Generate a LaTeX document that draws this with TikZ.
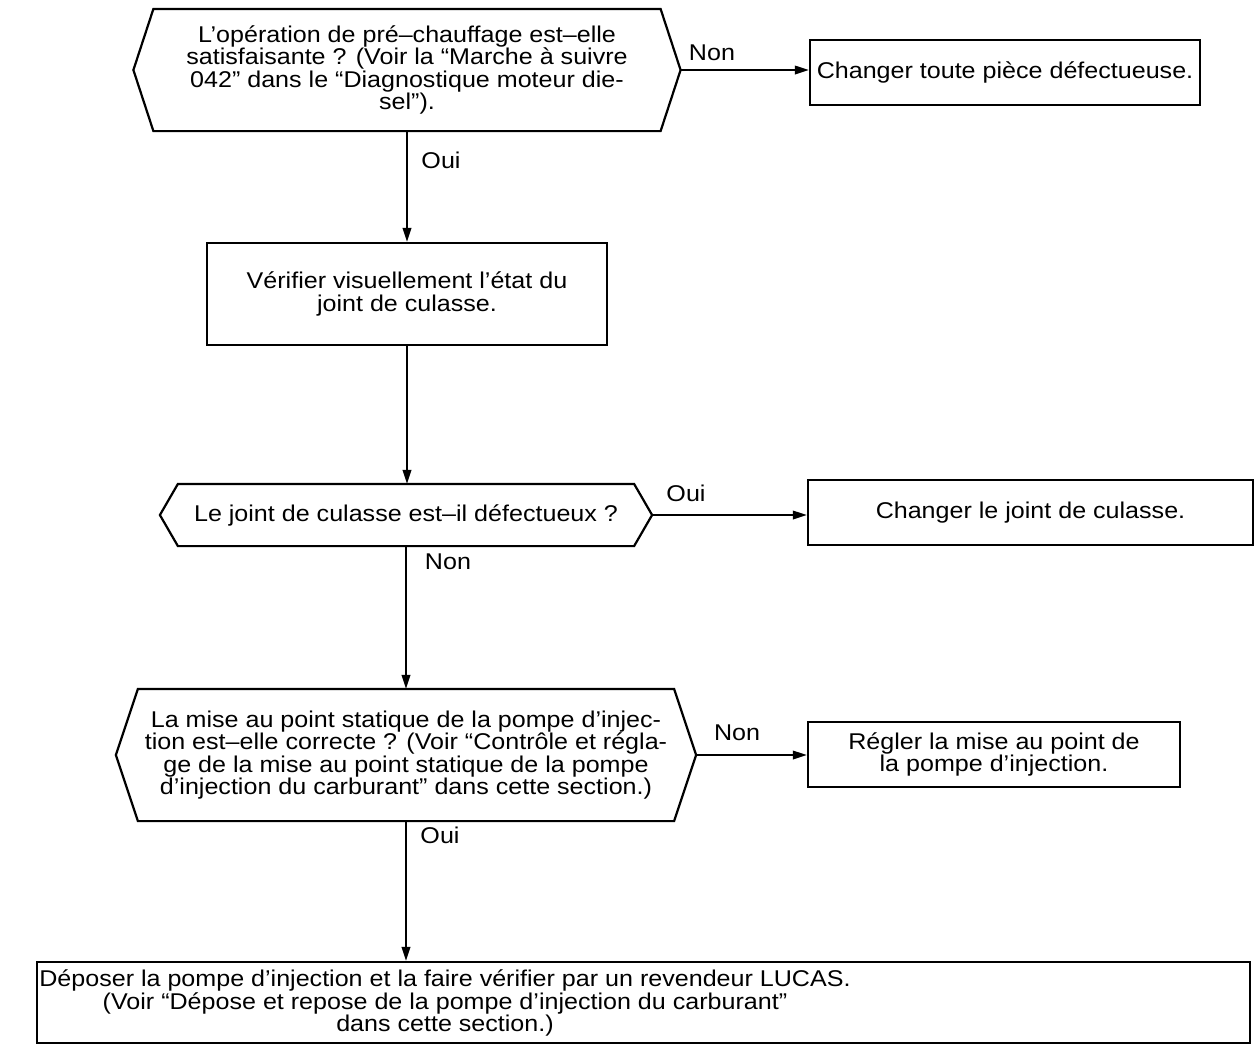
\documentclass[tikz,border=0pt]{standalone}
\usepackage{fontspec}
\setmainfont[FakeStretch=1.1]{Liberation Sans}
\usetikzlibrary{arrows.meta,calc}
\begin{document}
\begin{tikzpicture}[x=0.5pt,y=-0.5pt,line width=1.1pt,
  txt/.style={font=\fontsize{11.4}{11.25}\selectfont,align=center,inner sep=0pt},
  hexbody/.style={txt,draw=none},
  boxnode/.style={txt,draw,line width=1.1pt},
  lbl/.style={font=\fontsize{11.4}{11.25}\selectfont,inner sep=0pt},
  arr/.style={-{Triangle[length=7pt,width=4.2pt]},line width=1.1pt}]
\useasboundingbox (0,0) rectangle (1255,1046);

% --- decision 1
\node[hexbody,minimum width=252.5pt,minimum height=60pt] (h1) at (407,70)
  {L’opération de pré–chauffage est–elle\\satisfaisante ? (Voir la “Marche à suivre\\042” dans le “Diagnostique moteur die-\\sel”).};
\coordinate (h1r) at ($(h1.east)+(20,0)$);
\coordinate (h1l) at ($(h1.west)+(-20,0)$);
\draw (h1.north west) -- (h1.north east) -- (h1r) -- (h1.south east) -- (h1.south west) -- (h1l) -- cycle;

\node[boxnode,minimum width=195pt,minimum height=32.5pt] (b1) at (1005,72.5)
  {Changer toute pièce défectueuse.};

% --- step
\node[boxnode,minimum width=200pt,minimum height=51pt] (b2) at (407,294)
  {Vérifier visuellement l’état du\\joint de culasse.};

% --- decision 2
\node[hexbody,minimum width=227pt,minimum height=30pt] (h2) at (406,515)
  {Le joint de culasse est–il défectueux ?};
\coordinate (h2r) at ($(h2.east)+(18,0)$);
\coordinate (h2l) at ($(h2.west)+(-18,0)$);
\draw (h2.north west) -- (h2.north east) -- (h2r) -- (h2.south east) -- (h2.south west) -- (h2l) -- cycle;

\node[boxnode,minimum width=222.5pt,minimum height=32.5pt] (b3) at (1030.5,512.5)
  {Changer le joint de culasse.};

% --- decision 3
\node[hexbody,minimum width=267pt,minimum height=65pt] (h3) at (406,755)
  {La mise au point statique de la pompe d’injec-\\tion est–elle correcte ? (Voir “Contrôle et régla-\\ge de la mise au point statique de la pompe\\d’injection du carburant” dans cette section.)};
\coordinate (h3r) at ($(h3.east)+(22,0)$);
\coordinate (h3l) at ($(h3.west)+(-22,0)$);
\draw (h3.north west) -- (h3.north east) -- (h3r) -- (h3.south east) -- (h3.south west) -- (h3l) -- cycle;

\node[boxnode,minimum width=186pt,minimum height=32.5pt] (b4) at (994,754.5)
  {Régler la mise au point de\\la pompe d’injection.};

% --- final
\node[boxnode,minimum width=606.5pt,minimum height=40.5pt] (b5) at (643.5,1002.5) {};
\node[txt] (t5) at (445,1003)
  {Déposer la pompe d’injection et la faire vérifier par un revendeur LUCAS.\\(Voir “Dépose et repose de la pompe d’injection du carburant”\\dans cette section.)};

% --- connectors
\draw[arr] (h1r) -- (h1r -| b1.west);
\draw[arr] (h1.south) -- (h1.south |- b2.north);
\draw[arr] (b2.south) -- (b2.south |- h2.north);
\draw[arr] (h2r) -- (h2r -| b3.west);
\draw[arr] (h2.south) -- (h2.south |- h3.north);
\draw[arr] (h3r) -- (h3r -| b4.west);
\draw[arr] (h3.south) -- (h3.south |- b5.north);

% --- labels
\node[lbl] (l1) at (712,53) {Non};
\node[lbl] (l2) at (441,160) {Oui};
\node[lbl] (l3) at (686,493) {Oui};
\node[lbl] (l4) at (448,562) {Non};
\node[lbl] (l5) at (737,733) {Non};
\node[lbl] (l6) at (440,835) {Oui};
\end{tikzpicture}
\end{document}
